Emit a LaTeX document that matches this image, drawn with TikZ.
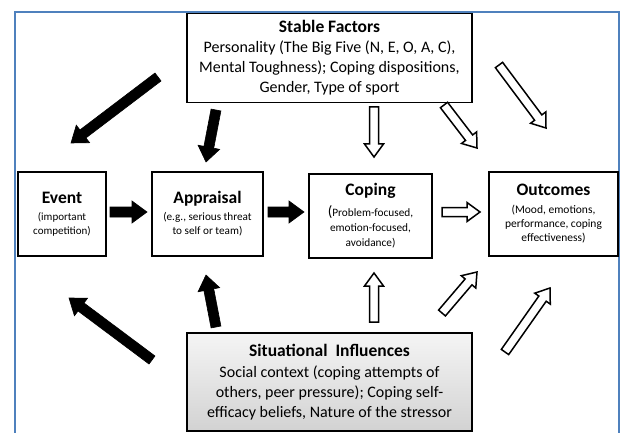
\documentclass[tikz,border=0pt]{standalone}
\usepackage{fontspec}
\setmainfont{Carlito}
\usetikzlibrary{calc}
\definecolor{frameblue}{RGB}{79,129,189}
\tikzset{
  box/.style={draw=black, line width=1.6pt, fill=white, align=center, inner sep=0pt},
  blk/.style={fill=black, draw=black, line width=0.6pt, line join=miter},
  opn/.style={fill=white, draw=black, line width=1.5pt, line join=miter},
}
% #1 style, #2 from, #3 to, #4 shaft half width, #5 head half width, #6 head length
\newcommand\blockarrow[6]{%
  \coordinate (ba-n) at ($(#3)!#6!(#2)$);
  \path[#1] ($(#2)!#4!90:(#3)$) -- ($(ba-n)!#4!90:(#3)$) -- ($(ba-n)!#5!90:(#3)$) -- (#3)
     -- ($(ba-n)!#5!-90:(#3)$) -- ($(ba-n)!#4!-90:(#3)$) -- ($(#2)!#4!-90:(#3)$) -- cycle;}
\newcommand\blackarrow[2]{\blockarrow{blk}{#1}{#2}{5pt}{11pt}{15pt}}
\newcommand\openarrow[2]{\blockarrow{opn}{#1}{#2}{4.5pt}{9.5pt}{13pt}}
\begin{document}
\begin{tikzpicture}[x=1pt,y=-1pt]
\useasboundingbox (0,0) rectangle (621,433);
\draw[frameblue, line width=2pt] (15,440) -- (15,12) -- (619,12) -- (619,440);

\node[box, minimum width=285pt, minimum height=89pt, font=\fontsize{16}{20}\selectfont] (sf) at (329.5,58)
  {{\fontsize{17.5}{20}\selectfont\bfseries Stable Factors}\\Personality (The Big Five (N, E, O, A, C),\\Mental Toughness); Coping dispositions,\\Gender, Type of sport};

\node[box, minimum width=88pt, minimum height=84pt, font=\fontsize{11}{14}\selectfont] (ev) at (62,214)
  {{\fontsize{17.5}{18}\selectfont\bfseries Event}\\[3pt](important\\competition)};

\node[box, minimum width=111pt, minimum height=84pt, font=\fontsize{11.2}{14}\selectfont] (ap) at (207.5,214)
  {{\fontsize{17.5}{18}\selectfont\bfseries Appraisal}\\[3pt](e.g., serious threat\\to self or team)};

\node[box, minimum width=123pt, minimum height=84pt, font=\fontsize{11.3}{15}\selectfont] (co) at (370.5,216)
  {{\fontsize{17.5}{18}\selectfont\bfseries Coping}\\[6pt]{\fontsize{15}{15}\selectfont(}Problem-focused,\\emotion-focused,\\avoidance)};

\node[box, minimum width=129pt, minimum height=84pt, font=\fontsize{11.5}{14}\selectfont] (oc) at (553.5,214)
  {{\fontsize{17.5}{18}\selectfont\bfseries Outcomes}\\[4pt](Mood, emotions,\\performance, coping\\effectiveness)};

\node[box, minimum width=285pt, minimum height=98pt, top color=gray!8, bottom color=gray!35,
      font=\fontsize{16}{20}\selectfont] (si) at (329.5,382)
  {{\fontsize{17.5}{20}\selectfont\bfseries Situational\ \ Influences}\\[1pt]Social context (coping attempts of\\others, peer pressure); Coping self-\\efficacy beliefs, Nature of the stressor};

% arrow end points
\coordinate (b1s) at (158,77);  \coordinate (b1e) at (71,143);
\coordinate (b2s) at (216,110); \coordinate (b2e) at (206,162);
\coordinate (b3s) at (110,212); \coordinate (b3e) at (147,212);
\coordinate (b4s) at (268,212); \coordinate (b4e) at (304,212);
\coordinate (b5s) at (216,327); \coordinate (b5e) at (206,275);
\coordinate (b6s) at (152,360); \coordinate (b6e) at (69,298);
\coordinate (o1s) at (374,107); \coordinate (o1e) at (374,157);
\coordinate (o2s) at (444,105); \coordinate (o2e) at (477,148);
\coordinate (o3s) at (499,65);  \coordinate (o3e) at (546,128);
\coordinate (o4s) at (442,212); \coordinate (o4e) at (480,212);
\coordinate (o5s) at (374,322); \coordinate (o5e) at (374,273);
\coordinate (o6s) at (442,313); \coordinate (o6e) at (477,272);
\coordinate (o7s) at (505,352); \coordinate (o7e) at (550,288);

\blackarrow{b1s}{b1e}
\blackarrow{b2s}{b2e}
\blackarrow{b3s}{b3e}
\blackarrow{b4s}{b4e}
\blackarrow{b5s}{b5e}
\blackarrow{b6s}{b6e}
\openarrow{o1s}{o1e}
\openarrow{o2s}{o2e}
\openarrow{o3s}{o3e}
\openarrow{o4s}{o4e}
\openarrow{o5s}{o5e}
\openarrow{o6s}{o6e}
\openarrow{o7s}{o7e}
\end{tikzpicture}
\end{document}
